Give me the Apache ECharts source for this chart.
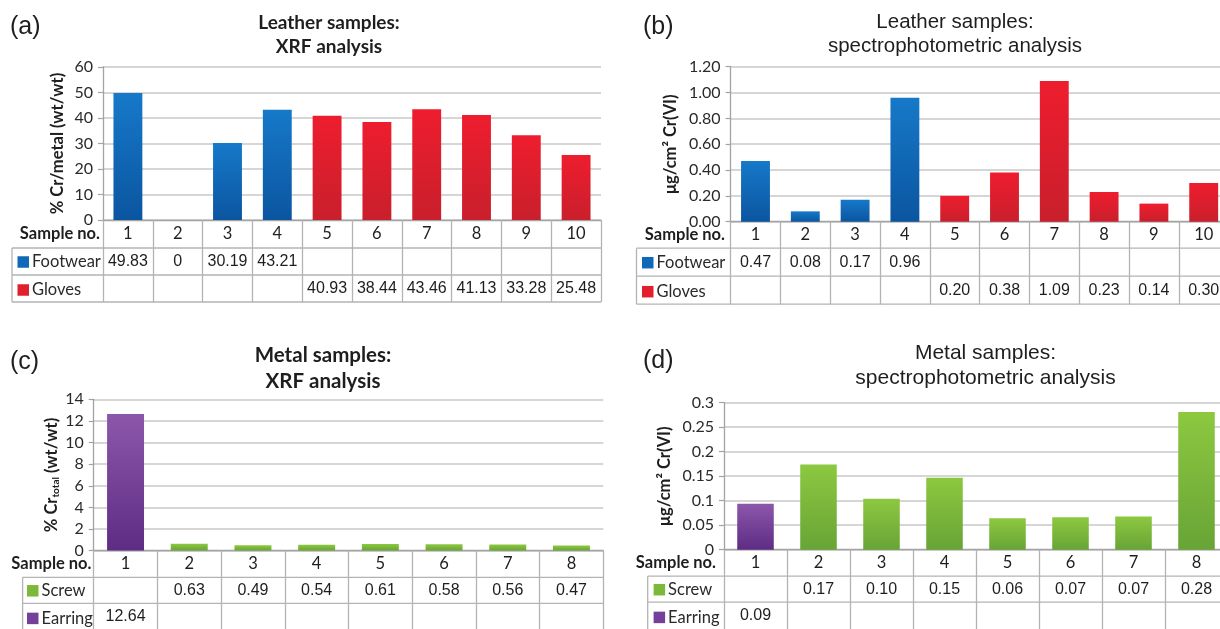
<!DOCTYPE html>
<html><head><meta charset="utf-8">
<script src="https://cdn.jsdelivr.net/npm/echarts@6/dist/echarts.min.js"></script>
<style>html,body{margin:0;padding:0;background:#fff}#c{width:1220px;height:629px}</style>
</head><body><div id="c"></div>
<script>
// ---------- DATA ----------
const leatherSamples = ['1','2','3','4','5','6','7','8','9','10'];
const metalSamples = ['1','2','3','4','5','6','7','8'];

// (a) Leather samples: XRF analysis, % Cr/metal (wt/wt)
const xrfFootwear = [49.83, 0, 30.19, 43.21, null, null, null, null, null, null];
const xrfGloves   = [null, null, null, null, 40.93, 38.44, 43.46, 41.13, 33.28, 25.48];
const xrfLeatherTicks = [0, 10, 20, 30, 40, 50, 60];

// (b) Leather samples: spectrophotometric, µg/cm2 Cr(VI)
const specFootwear = [0.47, 0.08, 0.17, 0.96, null, null, null, null, null, null];
const specGloves   = [null, null, null, null, 0.20, 0.38, 1.09, 0.23, 0.14, 0.30];
const specLeatherTicks = [0, 0.2, 0.4, 0.6, 0.8, 1.0, 1.2];

// (c) Metal samples: XRF analysis, % Cr total (wt/wt)
const xrfScrew   = [null, 0.63, 0.49, 0.54, 0.61, 0.58, 0.56, 0.47];
const xrfEarring = [12.64, null, null, null, null, null, null, null];
const xrfMetalTicks = [0, 2, 4, 6, 8, 10, 12, 14];

// (d) Metal samples: spectrophotometric, µg/cm2 Cr(VI)
const specScrew   = [null, 0.174, 0.104, 0.147, 0.064, 0.066, 0.068, 0.281];
const specEarring = [0.094, null, null, null, null, null, null, null];
const specMetalTicks = [0, 0.05, 0.1, 0.15, 0.2, 0.25, 0.3];

// ---------- STYLE / LAYOUT ----------
const CAL = 'Lato', ARI = 'Liberation Sans';
const COL = {
  Footwear: ['#1679c9', '#0b55a0', '#1068b8'],
  Gloves:   ['#ee1d2e', '#c91f2c', '#e21f2d'],
  Screw:    ['#8dc840', '#68a436', '#7cb93b'],
  Earring:  ['#8c57ab', '#5e2c84', '#74409a']
};
function grad(c) {
  return new echarts.graphic.LinearGradient(0, 0, 0, 1, [{offset: 0, color: c[0]}, {offset: 1, color: c[1]}]);
}

const panels = [
  { label: '(a)', labelPos: [10, 27], title: 'Leather samples:\nXRF analysis', titleBold: true,
    titlePos: [329, 35.3], titleLH: 24, titleSize: 19,
    cats: leatherSamples, ticks: xrfLeatherTicks,
    rows: [['Footwear', xrfFootwear], ['Gloves', xrfGloves]],
    fmt: v => String(v), yfmt: v => String(v),
    yName: '{b|% Cr/metal (wt/wt)}', nameGap: 35,
    grid: {left: 103, top: 67, width: 498, height: 153},
    tableLeft: 12, rowEdges: [28, 55, 82], rowCenters: [14, 41.5, 68.5], sampleRight: 100, legendLeft: 17.5 },
  { label: '(b)', labelPos: [643, 27], title: 'Leather samples:\nspectrophotometric analysis', titleBold: false,
    titlePos: [955, 34.7], titleLH: 24, titleSize: 20.5,
    cats: leatherSamples, ticks: specLeatherTicks,
    rows: [['Footwear', specFootwear], ['Gloves', specGloves]],
    fmt: v => v.toFixed(2), yfmt: v => v.toFixed(2),
    yName: '{b|μg/cm² Cr(VI)}', nameGap: 50,
    grid: {left: 730.6, top: 66.7, width: 498, height: 155},
    tableLeft: 636.5, rowEdges: [26.5, 54.5, 82.5], rowCenters: [13.2, 40.5, 68.5], sampleRight: 725, legendLeft: 642 },
  { label: '(c)', labelPos: [10, 362.5], title: 'Metal samples:\nXRF analysis', titleBold: true,
    titlePos: [323, 368.3], titleLH: 26.7, titleSize: 20.5,
    cats: metalSamples, ticks: xrfMetalTicks,
    rows: [['Screw', xrfScrew], ['Earring', xrfEarring]],
    fmt: v => String(v), yfmt: v => String(v),
    yName: '{b|% Cr}{s|total}{b| (wt/wt)}', nameGap: 29,
    grid: {left: 93.7, top: 399.3, width: 509.6, height: 151.3},
    tableLeft: 22.6, rowEdges: [26.7, 52.7, 80], rowCenters: [13.3, 39.7, 66.3], sampleRight: 91.5, legendLeft: 27 },
  { label: '(d)', labelPos: [643, 361], title: 'Metal samples:\nspectrophotometric analysis', titleBold: false,
    titlePos: [985.5, 366], titleLH: 25, titleSize: 21,
    cats: metalSamples, ticks: specMetalTicks,
    rows: [['Screw', specScrew], ['Earring', specEarring]],
    fmt: v => v.toFixed(2), yfmt: v => String(+v.toFixed(2)),
    yName: '{b|μg/cm² Cr(VI)}', nameGap: 49,
    grid: {left: 724, top: 402.7, width: 504, height: 147},
    tableLeft: 647.7, rowEdges: [26.5, 52.5, 80], rowCenters: [13.2, 39.5, 66.2], sampleRight: 716, legendLeft: 653.6 }
];

const LINE = '#b3b3b3', AXIS = '#a3a3a3', GRIDC = '#c9c9c9', TXT = '#1e1e1e';

const grids = [], xAxes = [], yAxes = [], series = [], legends = [], graphics = [];

panels.forEach((p, i) => {
  grids.push(Object.assign({outerBoundsMode: 'none', containLabel: false}, p.grid));
  const axisY = p.grid.top + p.grid.height;
  const gridRight = p.grid.left + p.grid.width;
  const t = p.ticks;
  yAxes.push({
    gridIndex: i, type: 'value', min: t[0], max: t[t.length - 1], interval: t[1] - t[0],
    axisLine: {show: true, lineStyle: {color: AXIS, width: 1.3}},
    axisTick: {show: true, length: 5, lineStyle: {color: AXIS, width: 1.2}},
    splitLine: {show: true, lineStyle: {color: GRIDC, width: 1.6}},
    axisLabel: {fontFamily: CAL, fontSize: 16, color: '#2a2a2a', margin: 10, formatter: p.yfmt},
    name: p.yName, nameLocation: 'middle', nameRotate: 90, nameGap: p.nameGap,
    nameTextStyle: {rich: {
      b: {fontFamily: CAL, fontWeight: 'bold', fontSize: 16.5, color: TXT, lineHeight: 20},
      s: {fontFamily: CAL, fontWeight: 'bold', fontSize: 10, color: TXT, lineHeight: 10, verticalAlign: 'bottom'}
    }}
  });
  // header row axis (sample numbers); its ticks draw the table's vertical lines
  xAxes.push({
    gridIndex: i, type: 'category', data: p.cats, position: 'bottom', boundaryGap: true,
    axisLine: {show: true, lineStyle: {color: AXIS, width: 1.3}},
    axisTick: {show: true, interval: 0, alignWithLabel: false, length: p.rowEdges[2], lineStyle: {color: LINE, width: 1.3}},
    axisLabel: {interval: 0, hideOverlap: false, margin: p.rowCenters[0], verticalAlign: 'middle',
      fontFamily: CAL, fontSize: 16.5, color: TXT},
    splitLine: {show: false}
  });
  const hdrIdx = xAxes.length - 1;
  // table value rows
  p.rows.forEach((r, k) => {
    xAxes.push({
      gridIndex: i, type: 'category', data: p.cats, position: 'bottom', boundaryGap: true,
      axisLine: {show: false}, axisTick: {show: false}, splitLine: {show: false},
      axisLabel: {interval: 0, hideOverlap: false, margin: p.rowCenters[k + 1], verticalAlign: 'middle',
        fontFamily: ARI, fontSize: 16, color: TXT,
        formatter: (val, idx) => (r[1][idx] == null ? '' : p.fmt(r[1][idx]))}
    });
  });
  // bars
  p.rows.forEach(r => {
    series.push({
      type: 'bar', name: r[0], data: r[1], xAxisIndex: hdrIdx, yAxisIndex: i,
      barWidth: '58%', barGap: '-100%', itemStyle: {color: grad(COL[r[0]])},
      emphasis: {disabled: true}, animation: false
    });
  });
  // legend = table row headers
  legends.push({
    orient: 'vertical', left: p.legendLeft, top: axisY + p.rowCenters[1] - 8,
    padding: 0, itemGap: (p.rowCenters[2] - p.rowCenters[1]) - 16,
    icon: 'rect', itemWidth: 11.5, itemHeight: 11.5, selectedMode: false,
    data: p.rows.map(r => ({name: r[0], itemStyle: {color: COL[r[0]][2]}})),
    textStyle: {fontFamily: CAL, fontSize: 16.5, color: '#2a2a2a', lineHeight: 16, padding: [0, 0, 0, -2]}
  });
  // table horizontal lines + left border
  p.rowEdges.forEach(off => {
    graphics.push({type: 'line', silent: true, shape: {x1: p.tableLeft, y1: axisY + off, x2: gridRight, y2: axisY + off},
      style: {stroke: LINE, lineWidth: 1.3}});
  });
  graphics.push({type: 'line', silent: true, shape: {x1: p.tableLeft, y1: axisY + p.rowEdges[0], x2: p.tableLeft, y2: axisY + p.rowEdges[2]},
    style: {stroke: LINE, lineWidth: 1.3}});
  // "Sample no."
  graphics.push({type: 'text', silent: true, x: p.sampleRight, y: axisY + p.rowCenters[0],
    style: {text: 'Sample no.', font: 'bold 16.5px ' + CAL, fill: TXT, align: 'right', verticalAlign: 'middle'}});
  // panel label
  graphics.push({type: 'text', silent: true, x: p.labelPos[0], y: p.labelPos[1],
    style: {text: p.label, font: '25px ' + ARI, fill: TXT, align: 'left', verticalAlign: 'middle'}});
  // title
  graphics.push({type: 'text', silent: true, x: p.titlePos[0], y: p.titlePos[1],
    style: {text: p.title, font: (p.titleBold ? 'bold ' : '') + p.titleSize + 'px ' + (p.titleBold ? CAL : ARI),
      fill: TXT, align: 'center', verticalAlign: 'middle', lineHeight: p.titleLH}});
});

const chart = echarts.init(document.getElementById('c'), null, {renderer: 'canvas', width: 1220, height: 629});
chart.setOption({
  backgroundColor: '#ffffff',
  animation: false,
  grid: grids, xAxis: xAxes, yAxis: yAxes, series: series, legend: legends,
  graphic: graphics
});
</script></body></html>
